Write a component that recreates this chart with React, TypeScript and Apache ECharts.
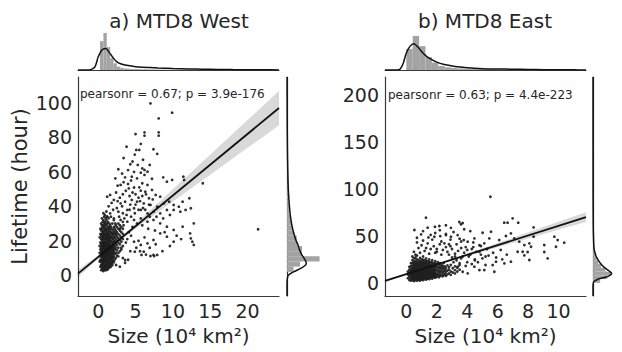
import React, { useEffect, useRef } from 'react';
import * as echarts from 'echarts';

// ---------- West (panel a) ----------
const westPoints: number[][] = [
  [7.0,99.7],[9.9,94.3],[8.1,91.0],[5.0,81.9],[6.2,82.9],[6.2,81.0],[8.1,82.9],[8.1,81.0],[3.8,74.6],[5.7,76.2],
  [5.1,72.7],[5.5,72.7],[7.4,73.1],[7.9,70.4],[4.3,64.4],[2.7,61.5],[5.9,62.0],[6.2,61.1],[5.7,59.5],[6.2,58.2],
  [6.6,60.1],[2.3,56.2],[3.6,56.8],[4.5,57.2],[5.2,56.2],[8.7,56.8],[9.2,54.3],[9.9,55.3],[11.4,57.2],[11.5,55.3],
  [14.0,53.4],[5.9,53.4],[6.6,52.4],[3.0,52.4],[4.1,50.4],[4.8,50.9],[5.7,49.1],[6.3,48.5],[7.2,49.5],[7.7,46.6],
  [8.3,45.6],[6.8,44.7],[1.6,46.6],[1.2,45.6],[2.1,43.7],[3.0,41.7],[3.6,42.7],[4.5,43.7],[5.2,42.7],[6.1,41.7],
  [7.0,40.8],[7.9,39.8],[8.8,41.7],[9.5,42.7],[10.1,40.8],[10.8,39.8],[11.3,42.7],[12.2,44.7],[12.4,38.9],[10.1,37.9],
  [11.0,36.9],[11.7,37.9],[9.2,37.9],[8.3,35.9],[7.4,36.9],[6.6,35.9],[5.7,37.9],[4.8,38.9],[3.9,37.9],[2.7,36.9],
  [1.6,35.9],[1.2,34.0],[2.1,33.0],[3.0,32.1],[3.9,31.1],[4.8,32.1],[5.7,33.0],[6.6,31.1],[7.4,32.1],[8.3,30.1],
  [9.2,28.2],[10.1,26.3],[11.3,28.2],[12.8,30.1],[8.3,24.3],[9.2,22.4],[10.1,19.5],[7.4,20.5],[6.6,18.5],[5.7,17.6],
  [4.8,19.5],[6.1,13.7],[7.4,11.8],[7.9,11.8],[12.3,24.3],[12.6,19.5],[12.8,17.6],[12.4,21.4],[21.4,26.7],[3.6,8.9],
  [3.6,7.3],[4.9,13.7],[5.8,11.8],[7.0,11.2],[7.5,11.2],
  [2.4,48],[2.9,45],[3.3,47],[3.7,49],[4.2,46],[4.6,48],[5.0,47],[5.4,45],[5.9,46],[6.4,47],[2.6,52],[3.4,54],
  [4.0,53],[4.4,55],[5.5,51],[3.2,59],[4.0,61],[4.8,60],[5.3,64],[4.6,66],[6.9,64],[7.2,56],[6.0,67],[3.4,68],
  [4.9,70],[2.5,39],[3.2,40],[4.3,41],[4.9,36],[5.4,38],[6.3,38],[6.9,34],[7.8,34],[8.7,33],[9.6,35],[2.3,30],
  [2.8,34],[3.5,33],[4.4,34],[5.2,30],[5.9,29],[6.7,27],[7.6,26],[8.9,25],[10.5,23],[11.1,21],[2.4,24],[2.9,27],
  [3.4,29],[4.1,25],[4.6,28],[5.4,20],[6.2,22],[6.9,16],[7.7,18],[8.6,14],[9.6,17],[3.1,16],[3.7,19],[4.3,14],
  [2.7,11],[3.3,10],[4.0,9],[2.4,6],[2.9,5],[3.9,21],[4.4,23],[5.1,16],[5.6,14],[6.4,12],
  [3.8,35],[4.2,38],[5.0,41],[5.6,43],[6.0,39],[6.8,41],[7.3,44],[3.3,36],[2.6,43],[2.0,38],[1.8,42],[1.4,40],
];
// dense core, one row per size column: [size, lifetime, lifetime, ...]
const westCore: number[][] = [
  [0.2, 8, 13, 17, 22],
  [0.3, 5, 9, 11, 15, 19, 24, 27],
  [0.4, 3, 6, 8, 12, 14, 16, 18, 21, 23, 26, 30],
  [0.5, 4, 5.5, 7, 9, 10.5, 12, 13.5, 15, 17, 19, 20.5, 22, 24, 27, 29, 33],
  [0.6, 3, 4.5, 6, 8, 9.5, 11, 12.5, 14, 16, 17.5, 19, 21, 23, 25, 28, 31],
  [0.7, 2.5, 4, 6.5, 8, 10, 11.5, 13, 15, 16.5, 18, 20, 22, 24, 26, 29, 32, 36],
  [0.8, 3.5, 5, 7, 9, 10.5, 12, 13.5, 15.5, 17, 19, 21, 23, 25, 27.5, 30, 34],
  [0.9, 3, 4.5, 6, 8, 9.5, 11, 12.5, 14, 16, 18, 19.5, 21.5, 24, 26, 28.5, 31, 35],
  [1.0, 4, 5.5, 7.5, 9, 11, 12.5, 14.5, 16, 17.5, 19, 21, 23, 25.5, 27, 30, 33],
  [1.1, 3, 5, 6.5, 8.5, 10, 12, 13.5, 15, 17, 18.5, 20.5, 22.5, 24, 26.5, 29, 32, 37],
  [1.2, 4, 6, 8, 9.5, 11.5, 13, 14.5, 16.5, 18, 20, 22, 24.5, 27, 30, 34],
  [1.3, 3.5, 5.5, 7, 9, 11, 12.5, 14, 16, 17.5, 19.5, 21.5, 23.5, 26, 28, 31],
  [1.4, 5, 7.5, 9.5, 11, 13, 15, 17, 19, 21, 23, 25, 28, 33],
  [1.5, 4.5, 6.5, 8.5, 10.5, 12, 14, 16, 18, 20, 22, 24, 27, 30],
  [1.6, 6, 8, 10, 12.5, 14.5, 16.5, 18.5, 21, 23, 26, 29],
  [1.7, 5, 7, 9.5, 11.5, 13.5, 15.5, 17.5, 20, 22.5, 25, 28, 34],
  [1.8, 7, 9, 11, 13, 15, 17, 19.5, 22, 24.5, 27],
  [1.9, 6, 8.5, 10.5, 12.5, 14.5, 16.5, 19, 21.5, 24, 30],
  [2.0, 8, 10, 12, 14, 16, 18.5, 21, 23.5, 26],
  [2.1, 7.5, 11, 13.5, 15.5, 17.5, 20, 22.5, 25, 28, 32],
  [2.2, 9, 12.5, 15, 17, 19.5, 22, 24.5, 27],
  [2.35, 10, 13, 16, 18.5, 21, 23.5, 26, 29],
  [2.5, 11.5, 14.5, 17.5, 20, 22.5, 25, 28],
  [2.7, 13, 16, 19, 21.5, 24, 27, 30],
  [2.9, 14, 18, 20.5, 23, 26, 29],
  [3.1, 15, 19.5, 22, 25, 28],
  [3.3, 17, 21, 24, 27, 31],
];
const westRegX = [-2.7, 24.2];
const westRegY = [0.96, 97.0];
const westCiX = [-2.7, 0, 2, 5, 8, 11, 14, 17, 20, 22, 24.2];
const westCiLow = [-1.1, 9.5, 16.9, 27.0, 36.5, 45.9, 55.2, 64.6, 73.9, 80.1, 87.0];
const westCiHigh = [3.1, 11.7, 18.5, 29.9, 41.9, 53.9, 66.0, 78.0, 90.1, 98.1, 107.0];
const westSizeHist = [
  [0.25,0.7,0.78],[0.7,1.15,1.0],[1.15,1.6,0.62],[1.6,2.05,0.32],[2.05,2.5,0.18],[2.5,2.95,0.09],[2.95,3.4,0.06],
  [3.4,3.85,0.04],[3.85,4.3,0.035],[4.3,4.75,0.03],[4.75,5.2,0.025],[5.2,5.65,0.025],[5.65,6.1,0.02],[6.1,6.55,0.02],
  [6.55,7.0,0.015],[7.0,7.45,0.015],[7.45,7.9,0.012],[7.9,8.35,0.01],[8.35,8.8,0.01],[8.8,9.25,0.008],[9.25,9.7,0.006],
  [9.7,10.15,0.006],[10.15,10.6,0.005],[10.6,11.05,0.005],[11.05,11.5,0.004],[12.1,12.55,0.004],[12.55,13.0,0.004],
];
const westSizeKdeX = [-2.7,-1.5,-1.0,-0.5,-0.25,0,0.5,1.0,1.5,2.0,2.5,3,4,5,6,7,8,10,12,14,16,18,20,22,24.2];
const westSizeKde = [0,0,0.01,0.07,0.18,0.35,0.54,0.58,0.47,0.33,0.22,0.17,0.12,0.09,0.075,0.065,0.055,0.04,0.03,0.022,0.016,0.011,0.008,0.005,0.003];
const westLifeHist = [
  [2,5,0.2],[5,8,0.40],[8,11,1.0],[11,14,0.46],[14,17,0.46],[17,20,0.31],[20,23,0.30],[23,26,0.21],[26,29,0.15],
  [29,32,0.12],[32,35,0.09],[35,38,0.07],[38,41,0.06],[41,44,0.05],[44,47,0.04],[47,50,0.03],[50,53,0.025],
  [53,56,0.02],[56,59,0.02],[59,62,0.015],[62,65,0.01],[71,74,0.01],[80,83,0.01],[89,92,0.006],[98,101,0.006],
];
const westLifeKdeY = [-12,-5,-2,0,2,4,6,7,8,10,12,15,18,20,25,30,35,40,45,50,60,70,80,90,100,115];
const westLifeKde = [0,0,0.01,0.04,0.2,0.42,0.57,0.59,0.58,0.52,0.45,0.38,0.33,0.28,0.2,0.14,0.1,0.075,0.055,0.04,0.025,0.015,0.01,0.006,0.004,0.001];

// ---------- East (panel b) ----------
const eastPoints: number[][] = [
  [5.52,91.6],[1.29,69.3],[6.98,68.6],[6.43,64.0],[6.65,64.0],[7.35,64.0],[8.36,59.0],[0.53,56.2],[0.97,51.6],
  [1.4,58.7],[1.88,59.6],[2.17,60.5],[2.6,61.2],[2.93,58.5],[3.48,64.7],[3.59,62.3],[3.7,63.6],[1.45,48.3],
  [1.84,49.0],[2.23,49.7],[2.6,50.8],[2.93,49.0],[3.37,50.8],[3.77,45.5],[4.03,43.8],[4.47,47.3],[5.01,53.3],
  [5.56,54.4],[5.45,47.3],[5.12,42.0],[4.9,39.2],[6.1,45.5],[6.54,49.8],[6.87,52.6],[7.09,47.3],[7.42,43.8],
  [7.75,40.2],[8.08,42.0],[8.19,38.4],[8.36,49.1],[9.06,40.2],[9.72,49.1],[9.94,45.5],[10.37,42.7],[7.97,32.8],
  [7.75,29.2],[9.06,32.8],[9.83,38.4],[7.31,33.1],[7.64,33.1],[8.08,24.3],[9.28,26.0],[6.87,22.5],[6.44,20.7],
  [5.89,22.5],[5.67,18.9],[5.78,11.8],[5.12,13.6],[4.8,13.6],[4.47,17.2],[4.03,10.1],[3.7,11.8],[3.37,17.2],
  [2.5,42],[2.9,39],[3.3,41],[3.6,37],[4.0,35],[4.4,38],[4.8,33],[5.3,36],[5.7,32],[6.2,35],[6.6,30],[2.8,30],
  [3.2,28],[3.6,26],[4.1,28],[4.5,24],[5.0,26],[5.4,29],[5.9,27],[6.3,25],[3.1,22],[3.5,21],[3.9,18],[4.3,20],
  [4.7,22],[5.2,19],[2.6,52],[3.1,54],[1.9,53],[1.1,55],[0.7,48],[4.2,55],[3.8,57],[2.2,56],
  [3.0,27],[3.3,24],[3.5,19],[3.7,28],[3.2,31],[2.7,33],[2.4,35],[2.0,33],[1.6,36],[1.2,34],[0.8,37],[1.0,40],
  [1.4,42],[1.8,39],[2.2,41],[2.6,38],[3.0,36],[3.4,34],[3.8,32],[4.2,30],[4.5,25],[4.0,22],[3.9,38],[4.3,36],
  [4.6,33],[4.9,30],[5.2,28],[4.8,40],[4.4,43],[3.6,44],[2.9,46],[2.3,44],[1.7,46],[1.1,45],[0.7,43],[0.5,33],[0.4,28],
  [1.5,31],[1.9,32],[2.3,30],[0.9,32],[0.6,30],[1.3,37],[2.0,36],[2.8,41],[3.5,47],[1.6,51],
];
const eastCore: number[][] = [
  [0.1, 5, 9, 12],
  [0.2, 3, 6, 8, 11, 14, 17],
  [0.3, 2.5, 4.5, 7, 9, 10.5, 12.5, 15, 18, 21],
  [0.4, 3, 5, 6.5, 8, 9.5, 11, 13, 14.5, 16, 18.5, 21, 24],
  [0.5, 2, 4, 5.5, 7, 8.5, 10, 11.5, 13, 14.5, 16.5, 18, 20, 22.5, 26],
  [0.6, 3, 4.5, 6, 7.5, 9, 10.5, 12, 13.5, 15, 17, 19, 21, 23.5, 27],
  [0.7, 2.5, 4, 5.5, 7, 8.5, 10, 11.5, 13, 14.5, 16, 18, 20, 22, 25, 29],
  [0.8, 3, 5, 6.5, 8, 9.5, 11, 12.5, 14, 15.5, 17.5, 19.5, 21.5, 24],
  [0.9, 2.5, 4.5, 6, 7.5, 9, 10.5, 12, 13.5, 15, 17, 19, 21, 23, 26.5],
  [1.0, 3.5, 5, 7, 8.5, 10, 11.5, 13, 14.5, 16.5, 18.5, 20.5, 22.5, 25],
  [1.1, 3, 4.5, 6, 7.5, 9.5, 11, 12.5, 14, 16, 18, 20, 22, 24.5, 28],
  [1.2, 4, 5.5, 7, 9, 10.5, 12, 13.5, 15.5, 17.5, 19.5, 21.5, 24],
  [1.3, 3.5, 5, 6.5, 8.5, 10, 11.5, 13, 15, 17, 19, 21, 23, 26],
  [1.4, 4.5, 6, 8, 9.5, 11, 12.5, 14.5, 16.5, 18.5, 20.5, 23],
  [1.5, 4, 5.5, 7.5, 9, 10.5, 12, 14, 16, 18, 20, 22.5, 25],
  [1.6, 5, 7, 8.5, 10, 11.5, 13.5, 15.5, 17.5, 19.5, 22],
  [1.7, 4.5, 6.5, 8, 9.5, 11, 13, 15, 17, 19, 21.5, 24],
  [1.8, 6, 7.5, 9, 10.5, 12.5, 14.5, 16.5, 18.5, 21],
  [1.9, 5.5, 7, 8.5, 10, 12, 14, 16, 18, 20.5, 23],
  [2.0, 6.5, 9.5, 13.5, 17.5, 20],
  [2.07, 8, 11.5, 15.5, 22],
  [2.15, 6, 9, 13, 17, 19.5],
  [2.22, 7.5, 11, 15, 21],
  [2.3, 8.5, 12.5, 16.5, 19],
  [2.38, 7, 10.5, 14.5, 18],
  [2.45, 8, 12, 16, 21],
  [2.53, 9.5, 13.5, 17.5],
  [2.6, 7.5, 11.5, 15.5],
  [2.7, 9, 13, 18.5],
  [2.8, 10, 14, 16.5],
  [2.92, 8.5, 12, 19],
  [3.05, 11, 15.5],
  [3.2, 10, 13.5, 17.5],
  [3.35, 12, 16],
  [3.5, 14],
];
const eastRegX = [-1.4, 11.8];
const eastRegY = [2.0, 70.0];
const eastCiX = [-1.4, 0, 1.5, 3, 5, 7, 9, 10.5, 11.8];
const eastCiLow = [0.7, 8.4, 16.3, 23.8, 33.2, 42.5, 51.8, 58.8, 64.8];
const eastCiHigh = [3.3, 10.0, 17.5, 25.5, 36.8, 48.0, 59.3, 67.8, 75.2];
const eastSizeHist = [
  [0.0,0.42,0.62],[0.42,0.84,1.0],[0.84,1.26,0.70],[1.26,1.68,0.38],[1.68,2.1,0.22],[2.1,2.52,0.12],[2.52,2.94,0.08],
  [2.94,3.36,0.06],[3.36,3.78,0.045],[3.78,4.2,0.035],[4.2,4.62,0.03],[4.62,5.04,0.025],[5.04,5.46,0.02],[5.46,5.88,0.018],
  [5.88,6.3,0.015],[6.3,6.72,0.012],[6.72,7.14,0.01],[7.14,7.56,0.01],[7.56,7.98,0.008],[7.98,8.4,0.007],[8.4,8.82,0.006],
  [8.82,9.24,0.005],[9.24,9.66,0.005],[9.66,10.08,0.004],[10.08,10.5,0.003],
];
const eastSizeKdeX = [-1.4,-0.6,-0.4,-0.2,0,0.25,0.5,0.75,1.0,1.25,1.5,2.0,2.5,3,3.5,4,5,6,7,8,9,10,11,11.8];
const eastSizeKde = [0,0,0.03,0.2,0.5,0.7,0.77,0.68,0.54,0.43,0.35,0.23,0.16,0.12,0.09,0.065,0.04,0.03,0.022,0.015,0.01,0.007,0.004,0.003];
const eastLifeHist = [
  [0,4,0.4],[4,8,0.8],[8,12,1.0],[12,16,0.7],[16,20,0.45],[20,24,0.3],[24,28,0.2],[28,32,0.13],[32,36,0.09],
  [36,40,0.06],[40,44,0.05],[44,48,0.04],[48,52,0.03],[52,56,0.02],[56,60,0.015],[60,64,0.012],[64,68,0.008],[88,92,0.004],
];
const eastLifeKdeY = [-14,-3,0,1,2,4,6,8,10,12,14,17,20,24,28,32,35,40,50,60,70,90,120,219];
const eastLifeKde = [0,0,0.02,0.04,0.1,0.3,0.7,0.95,1.05,0.95,0.8,0.6,0.45,0.3,0.18,0.11,0.07,0.045,0.025,0.015,0.01,0.005,0.002,0];

// ---------- labels ----------
const westTitle = 'a) MTD8 West';
const eastTitle = 'b) MTD8 East';
const westStat = 'pearsonr = 0.67; p = 3.9e-176';
const eastStat = 'pearsonr = 0.63; p = 4.4e-223';
const westXTicks = [0, 5, 10, 15, 20];
const westYTicks = [0, 20, 40, 60, 80, 100];
const eastXTicks = [0, 2, 4, 6, 8, 10];
const eastYTicks = [0, 50, 100, 150, 200];
const xName = 'Size (10\u2074 km\u00B2)';
const yName = 'Lifetime (hour)';

const FONT = 'DejaVu Sans';
const TXT = '#262626';
const SPINE = '#3a3a3a';
const HIST = '#a3a3a3';

function zip(a: number[], b: number[]) {
  return a.map((v, i) => [v, b[i]]);
}
function expand(cols: number[][]) {
  const out: number[][] = [];
  cols.forEach((c) => { for (let i = 1; i < c.length; i++) out.push([c[0], c[i]]); });
  return out;
}

function topHist(xi: number, yi: number, data: number[][]) {
  return {
    type: 'custom', xAxisIndex: xi, yAxisIndex: yi, data, silent: true, z: 2,
    encode: { x: [0, 1], y: 2 },
    renderItem: (_p: any, api: any) => {
      const a = api.coord([api.value(0), api.value(2)]);
      const b = api.coord([api.value(1), 0]);
      return { type: 'rect', shape: { x: a[0], y: a[1], width: b[0] - a[0], height: b[1] - a[1] }, style: { fill: HIST } };
    },
  };
}
function sideHist(xi: number, yi: number, data: number[][]) {
  return {
    type: 'custom', xAxisIndex: xi, yAxisIndex: yi, data, silent: true, z: 2,
    encode: { x: 2, y: [0, 1] },
    renderItem: (_p: any, api: any) => {
      const a = api.coord([0, api.value(1)]);
      const b = api.coord([api.value(2), api.value(0)]);
      return { type: 'rect', shape: { x: a[0], y: a[1], width: b[0] - a[0], height: b[1] - a[1] }, style: { fill: HIST } };
    },
  };
}
function kdeLine(xi: number, yi: number, data: number[][]) {
  return {
    type: 'line', xAxisIndex: xi, yAxisIndex: yi, data, showSymbol: false, smooth: 0.3, silent: true, z: 3,
    lineStyle: { color: '#111', width: 1.5 },
  };
}
function band(xi: number, yi: number, xs: number[], lo: number[], hi: number[]) {
  return {
    type: 'custom', xAxisIndex: xi, yAxisIndex: yi, silent: true, z: 3,
    data: xs.map((x, i) => [x, lo[i], hi[i]]),
    encode: { x: 0, y: [1, 2] },
    renderItem: (params: any, api: any) => {
      if (params.dataIndex !== 0) return null;
      const pts: number[][] = [];
      for (let i = 0; i < xs.length; i++) pts.push(api.coord([xs[i], lo[i]]));
      for (let i = xs.length - 1; i >= 0; i--) pts.push(api.coord([xs[i], hi[i]]));
      return { type: 'polygon', shape: { points: pts }, style: { fill: 'rgba(0,0,0,0.15)' } };
    },
  };
}

const labelStyle = { fontFamily: FONT, fontSize: 19, color: TXT };

function mainX(gi: number, min: number, max: number, ticks: number[]) {
  return {
    gridIndex: gi, type: 'value', min, max,
    axisLine: { show: true, onZero: false, lineStyle: { color: SPINE, width: 1.2 } },
    axisTick: { show: false }, splitLine: { show: false },
    axisLabel: { ...labelStyle, margin: 5, customValues: ticks },
    name: xName, nameLocation: 'middle', nameGap: 30,
    nameTextStyle: { fontFamily: FONT, fontSize: 20, color: TXT },
  };
}
function mainY(gi: number, min: number, max: number, ticks: number[], withName: boolean) {
  return {
    gridIndex: gi, type: 'value', min, max,
    axisLine: { show: true, onZero: false, lineStyle: { color: SPINE, width: 1.2 } },
    axisTick: { show: false }, splitLine: { show: false },
    axisLabel: { ...labelStyle, margin: 6, customValues: ticks },
    ...(withName ? { name: yName, nameLocation: 'middle', nameGap: 48, nameTextStyle: { fontFamily: FONT, fontSize: 21, color: TXT } } : {}),
  };
}
function bare(gi: number, min: number, max: number, line: boolean) {
  return {
    gridIndex: gi, type: 'value', min, max,
    axisLine: { show: line, onZero: false, lineStyle: { color: SPINE, width: 1.2 } },
    axisTick: { show: false }, splitLine: { show: false }, axisLabel: { show: false },
  };
}

const W = { x0: -2.7, x1: 24.2, y0: -12, y1: 115 };
const E = { x0: -1.4, x1: 11.8, y0: -14, y1: 219 };
const DOT = { color: '#1e1e1e', opacity: 0.92 };

const option: any = {
  animation: false,
  grid: [
    { left: 78, top: 77, width: 201, height: 219 },
    { left: 78, top: 26, width: 201, height: 44 },
    { left: 287, top: 77, width: 44, height: 219 },
    { left: 385, top: 77, width: 201, height: 219 },
    { left: 385, top: 26, width: 201, height: 44 },
    { left: 593, top: 77, width: 44, height: 219 },
  ],
  xAxis: [
    mainX(0, W.x0, W.x1, westXTicks),
    bare(1, W.x0, W.x1, true),
    bare(2, 0, 1.35, false),
    mainX(3, E.x0, E.x1, eastXTicks),
    bare(4, E.x0, E.x1, true),
    bare(5, 0, 1.63, false),
  ],
  yAxis: [
    mainY(0, W.y0, W.y1, westYTicks, true),
    bare(1, 0, 1.19, false),
    bare(2, W.y0, W.y1, true),
    mainY(3, E.y0, E.y1, eastYTicks, false),
    bare(4, 0, 1.29, false),
    bare(5, E.y0, E.y1, true),
  ],
  series: [
    { type: 'scatter', xAxisIndex: 0, yAxisIndex: 0, data: westPoints.concat(expand(westCore)), symbolSize: 2.8, itemStyle: DOT, z: 2, silent: true, large: false },
    band(0, 0, westCiX, westCiLow, westCiHigh),
    { type: 'line', xAxisIndex: 0, yAxisIndex: 0, data: zip(westRegX, westRegY), showSymbol: false, lineStyle: { color: '#111', width: 1.8 }, z: 4, silent: true },
    topHist(1, 1, westSizeHist),
    kdeLine(1, 1, zip(westSizeKdeX, westSizeKde)),
    sideHist(2, 2, westLifeHist),
    kdeLine(2, 2, zip(westLifeKde, westLifeKdeY)),

    { type: 'scatter', xAxisIndex: 3, yAxisIndex: 3, data: eastPoints.concat(expand(eastCore)), symbolSize: 2.8, itemStyle: DOT, z: 2, silent: true, large: false },
    band(3, 3, eastCiX, eastCiLow, eastCiHigh),
    { type: 'line', xAxisIndex: 3, yAxisIndex: 3, data: zip(eastRegX, eastRegY), showSymbol: false, lineStyle: { color: '#111', width: 1.8 }, z: 4, silent: true },
    topHist(4, 4, eastSizeHist),
    kdeLine(4, 4, zip(eastSizeKdeX, eastSizeKde)),
    sideHist(5, 5, eastLifeHist),
    kdeLine(5, 5, zip(eastLifeKde, eastLifeKdeY)),
  ],
  graphic: [
    { type: 'text', x: 179, y: 21, style: { text: westTitle, font: `20px "${FONT}"`, fill: TXT, align: 'center', verticalAlign: 'middle' } },
    { type: 'text', x: 485, y: 21, style: { text: eastTitle, font: `20px "${FONT}"`, fill: TXT, align: 'center', verticalAlign: 'middle' } },
    { type: 'text', x: 80, y: 94, z: 10, style: { text: westStat, font: `12px "${FONT}"`, fill: TXT, align: 'left', verticalAlign: 'middle' } },
    { type: 'text', x: 388, y: 95, z: 10, style: { text: eastStat, font: `12px "${FONT}"`, fill: TXT, align: 'left', verticalAlign: 'middle' } },
  ],
};

export default function App() {
  const ref = useRef<HTMLDivElement>(null);
  useEffect(() => {
    const chart = echarts.init(ref.current!, null, { renderer: 'svg' });
    chart.setOption(option);
    return () => chart.dispose();
  }, []);
  return <div ref={ref} style={{ position: 'fixed', left: 0, top: 0, width: 622, height: 352, background: '#fff' }} />;
}
